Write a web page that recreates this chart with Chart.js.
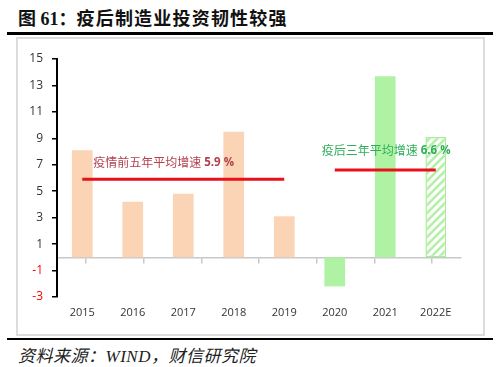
<!DOCTYPE html>
<html><head><meta charset="utf-8">
<script src="https://cdn.jsdelivr.net/npm/chart.js@4.4.0/dist/chart.umd.min.js"></script>
<style>
html,body{margin:0;padding:0;background:#fff;}
#wrap{position:relative;width:500px;height:367px;overflow:hidden;background:#fff;}
#title{position:absolute;left:18px;top:4px;font:bold 18px "Liberation Serif","Noto Sans CJK SC";color:#111;white-space:nowrap;}
#title .cjk{letter-spacing:1.2px;}
#rule1{position:absolute;left:7px;top:32px;width:486px;height:3px;background:#000;}
#box{position:absolute;left:16px;top:37px;width:465px;height:295px;border:2px solid #DCDCDC;}
#rule2{position:absolute;left:7px;top:338px;width:486px;height:2px;background:#000;}
#source{position:absolute;left:18px;top:342px;font:italic 17px "Liberation Serif","Noto Sans CJK SC";color:#222;white-space:nowrap;letter-spacing:0.5px;}
#c{position:absolute;left:0;top:0;}
</style></head>
<body>
<div id="wrap">
  <div id="title">图 61：<span class="cjk">疫后制造业投资韧性较强</span></div>
  <div id="rule1"></div>
  <div id="box"></div>
  <div id="rule2"></div>
  <div id="source">资料来源：WIND，财信研究院</div>
  <canvas id="c" width="500" height="367"></canvas>
</div>
<script>
const categories = ['2015','2016','2017','2018','2019','2020','2021','2022E'];
const growth = [8.1, 4.2, 4.8, 9.5, 3.1, -2.2, 13.7, 9.1];
const preAvg = [5.9, 5.9, 5.9, 5.9, 5.9, null, null, null];
const postAvg = [null, null, null, null, null, 6.6, 6.6, 6.6];
const preLabel = '疫情前五年平均增速';
const postLabel = '疫后三年平均增速';
const yMin = -3, yMax = 15, yStep = 2;

const canvas = document.getElementById('c');
const ctx = canvas.getContext('2d');

function makeHatch(){
  const s = 8;
  const c = document.createElement('canvas'); c.width = s; c.height = s;
  const g = c.getContext('2d');
  g.fillStyle = '#ffffff'; g.fillRect(0,0,s,s);
  g.strokeStyle = '#B2F0A6'; g.lineWidth = 2.6;
  g.beginPath();
  g.moveTo(-1, s+1); g.lineTo(s+1, -1);
  g.moveTo(-3, 3); g.lineTo(3, -3);
  g.moveTo(s-3, s+3); g.lineTo(s+3, s-3);
  g.stroke();
  return ctx.createPattern(c, 'repeat');
}
const hatch = makeHatch();
const peach = '#FBD3B5', green = '#B0F2A3';
const barColors = growth.map((v,i)=> i<5 ? peach : (i<7 ? green : hatch));
const barBorders = growth.map((v,i)=> i===7 ? '#A8EE9A' : 'rgba(0,0,0,0)');
const barBorderW = growth.map((v,i)=> i===7 ? 1.5 : 0);

const labelPlugin = {
  id: 'avgLabels',
  afterDatasetsDraw(chart){
    const c = chart.ctx, x = chart.scales.x, y = chart.scales.y;
    function draw(cjk, num, px, py, color){
      c.save();
      c.textBaseline = 'middle';
      c.textAlign = 'left';
      c.fillStyle = color;
      c.font = '12px "Noto Sans CJK SC"';
      c.fillText(cjk, px, py);
      const w = c.measureText(cjk).width;
      c.font = 'bold 11.5px "Open Sans"';
      c.fillText(num, px + w, py + 0.5);
      c.restore();
    }
    draw(preLabel, ' ' + preAvg[0].toFixed(1) + ' %', x.getPixelForValue(0) + 11, y.getPixelForValue(preAvg[0]) - 17, '#B3404F');
    draw(postLabel, ' ' + postAvg[5].toFixed(1) + ' %', x.getPixelForValue(5) - 13, y.getPixelForValue(postAvg[5]) - 20, '#2FAE5A');
  }
};

new Chart(ctx, {
  data: {
    labels: categories,
    datasets: [
      { type:'line', data: preAvg, borderColor:'#E8101A', borderWidth:3, pointRadius:0, fill:false, order:0, spanGaps:false },
      { type:'line', data: postAvg, borderColor:'#E8101A', borderWidth:3, pointRadius:0, fill:false, order:0, spanGaps:false },
      { type:'bar', data: growth, backgroundColor: barColors, borderColor: barBorders, borderWidth: barBorderW,
        borderSkipped:false, barPercentage:0.41, categoryPercentage:1.0, order:1 }
    ]
  },
  options: {
    responsive:false,
    animation:false,
    events:[],
    layout:{ padding:{ top:59, left:0, right:39, bottom:30 } },
    plugins:{ legend:{display:false}, tooltip:{enabled:false} },
    scales:{
      x:{
        type:'category', position:'bottom',
        grid:{display:false, drawTicks:false},
        border:{display:false},
        ticks:{color:'#333', font:{family:'Open Sans', size:11}, padding:9, maxRotation:0},
        afterFit(s){ s.height = 40; }
      },
      x2:{
        type:'category', position:{y:0},
        grid:{display:true, drawOnChartArea:false, drawTicks:true, tickLength:5, color:'#C8C8C8', lineWidth:1.5, offset:true},
        border:{display:true, color:'#C8C8C8', width:1.5},
        ticks:{display:false}
      },
      y:{
        min:yMin, max:yMax,
        ticks:{ stepSize:yStep, color:(c)=> c.tick && c.tick.value < 0 ? '#FF0000' : '#333', font:{family:'Open Sans', size:12}, padding:9 },
        grid:{ drawOnChartArea:false, drawTicks:true, tickLength:5, color:'#000', lineWidth:1.5 },
        border:{ color:'#000', width:2 },
        afterFit(s){ s.width = 57; }
      }
    }
  },
  plugins:[labelPlugin]
});
</script>
</body></html>
